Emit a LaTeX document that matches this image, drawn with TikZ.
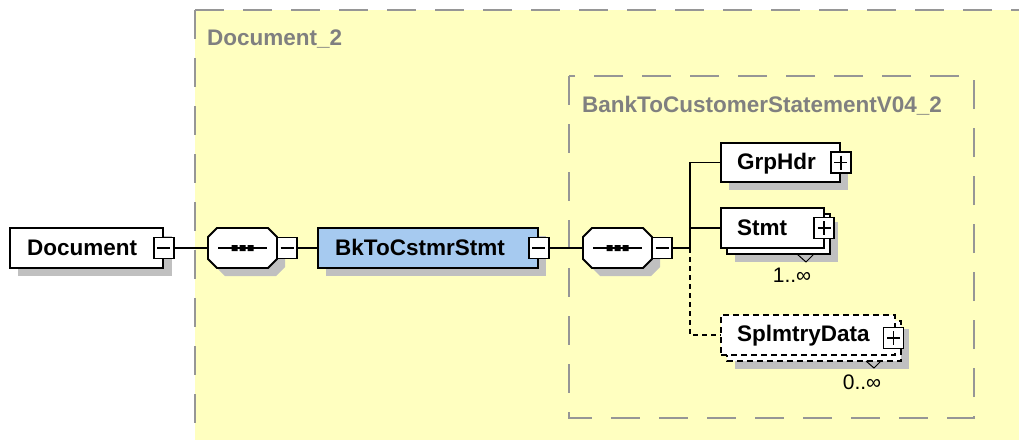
\documentclass[tikz,border=0pt]{standalone}
\usepackage{fontspec}
\setmainfont{Liberation Sans}
\usetikzlibrary{calc}
\definecolor{bgyellow}{RGB}{255,255,192}
\definecolor{framegray}{RGB}{150,150,150}
\definecolor{grtext}{RGB}{128,128,128}
\definecolor{shadowc}{RGB}{192,192,192}
\definecolor{elblue}{RGB}{166,202,240}
\begin{document}
\begin{tikzpicture}[x=1pt,y=-1pt,
 elbox/.style={draw=black, line width=1.8pt, fill=white, minimum height=40pt, inner sep=0pt},
 lbl/.style={anchor=base west, inner sep=0pt, font=\bfseries\fontsize{22.5}{26}\selectfont},
 grlbl/.style={lbl, text=grtext},
 card/.style={inner sep=0pt, font=\fontsize{21}{24}\selectfont},
 pmbox/.style={draw=black, fill=white, line width=1.5pt, minimum width=20pt, minimum height=21pt, inner sep=0pt},
 minusbox/.style={pmbox, path picture={\draw[line width=1.5pt] ([xshift=3.5pt]path picture bounding box.west) -- ([xshift=-3.5pt]path picture bounding box.east);}},
 plusbox/.style={pmbox, path picture={\draw[line width=1.5pt] ([xshift=3.5pt]path picture bounding box.west) -- ([xshift=-3.5pt]path picture bounding box.east) ([yshift=-3.5pt]path picture bounding box.north) -- ([yshift=3.5pt]path picture bounding box.south);}},
 conn/.style={draw=black, line width=1.6pt},
 dconn/.style={conn, dash pattern=on 5pt off 4pt},
 groupframe/.style={draw=framegray, line width=2.5pt, dash pattern=on 29pt off 19pt},
 seqspot/.style={minimum width=69pt, minimum height=40pt, inner sep=0pt},
 octline/.style={draw=black, line width=1.8pt, fill=white},
]
\fill[white] (0,0) rectangle (1019,439);
\useasboundingbox (0,0) rectangle (1019,439);
\clip (0,0) rectangle (1019,439);

% outer group
\fill[bgyellow] (195,10) rectangle (1040,460);
\draw[groupframe] (195,10) -- (1040,10);
\draw[groupframe] (195,10) -- (195,460);
\node[grlbl] (t2) at (207,45) {Document\_2};

% inner group
\draw[groupframe] (569,76) rectangle (974,418);
\node[grlbl] (t3) at (582,112) {BankToCustomerStatementV04\_2};

% Document
\fill[shadowc] (18,236) rectangle (172,276);
\node[elbox, minimum width=153pt] (doc) at (86.5,248) {};
\node[lbl] (doct) at (27,255.5) {Document};
\node[minusbox] (docm) at (doc.east) {};

% sequence 1
\node[seqspot] (seq1) at (242.5,248) {};
\fill[shadowc] (225,236) -- (276,236) -- (285,245) -- (285,267) -- (276,276) -- (225,276) -- (216,267) -- (216,245) -- cycle;
\path[octline] (217,228) -- (268,228) -- (277,237) -- (277,259) -- (268,268) -- (217,268) -- (208,259) -- (208,237) -- cycle;
\draw[line width=1.5pt] (218,248) -- (267,248);
\fill[black] (231.5,245) rectangle ++(6,6) (239.5,245) rectangle ++(6,6) (247.5,245) rectangle ++(6,6);
\node[minusbox] (seq1m) at (287,248) {};

% BkToCstmrStmt
\fill[shadowc] (326,236) rectangle (546,276);
\node[elbox, fill=elblue, minimum width=220pt] (bk) at (428,248) {};
\node[lbl] (bkt) at (335,255.5) {BkToCstmrStmt};
\node[minusbox] (bkm) at (bk.east) {};

% sequence 2
\node[seqspot] (seq2) at (617.5,248) {};
\fill[shadowc] (600,236) -- (651,236) -- (660,245) -- (660,267) -- (651,276) -- (600,276) -- (591,267) -- (591,245) -- cycle;
\path[octline] (592,228) -- (643,228) -- (652,237) -- (652,259) -- (643,268) -- (592,268) -- (583,259) -- (583,237) -- cycle;
\draw[line width=1.5pt] (593,248) -- (642,248);
\fill[black] (606.5,245) rectangle ++(6,6) (614.5,245) rectangle ++(6,6) (622.5,245) rectangle ++(6,6);
\node[minusbox] (seq2m) at (662,248) {};

% GrpHdr
\fill[shadowc] (729,151) rectangle (848,190);
\node[elbox, minimum width=119pt, minimum height=39pt] (grp) at (780.5,162.5) {};
\node[lbl] (grpt) at (737,169.5) {GrpHdr};
\node[plusbox] (grpp) at (grp.east) {};

% Stmt
\fill[shadowc] (735,222) rectangle (838,262);
\draw[line width=1.8pt, fill=white] (727,214) rectangle (830,254);
\node[elbox, minimum width=103pt] (stmt) at (772.5,228) {};
\node[lbl] (stmtt) at (737,235) {Stmt};
\node[plusbox] (stmtp) at (824,228) {};
\draw[line width=1pt] (797,254) -- (806,262) -- (814,254);
\node[card] (stmtc) at (792,275) {1..∞};

% SplmtryData
\fill[shadowc] (735,329) rectangle (909,369);
\draw[line width=1.8pt, fill=white, dash pattern=on 6pt off 4pt] (727,321) rectangle (901,361);
\node[elbox, dash pattern=on 6pt off 4pt, minimum width=174pt] (spl) at (808,335) {};
\node[lbl] (splt) at (737,341.5) {SplmtryData};
\node[plusbox] (splp) at (893.5,338) {};
\draw[line width=1pt] (866,361) -- (874,368) -- (881,361);
\node[card] (splc) at (862,382) {0..∞};

% connectors
\draw[conn] (docm.east) -- (seq1.west);
\draw[conn] (seq1m.east) -- (bk.west);
\draw[conn] (bkm.east) -- (seq2.west);
\coordinate (j) at (690,248);
\draw[conn] (seq2m.east) -- (j);
\draw[conn] (j) |- (grp.west);
\draw[conn] (j |- stmt.west) -- (stmt.west);
\draw[dconn] (j) |- (spl.west);
\end{tikzpicture}
\end{document}
